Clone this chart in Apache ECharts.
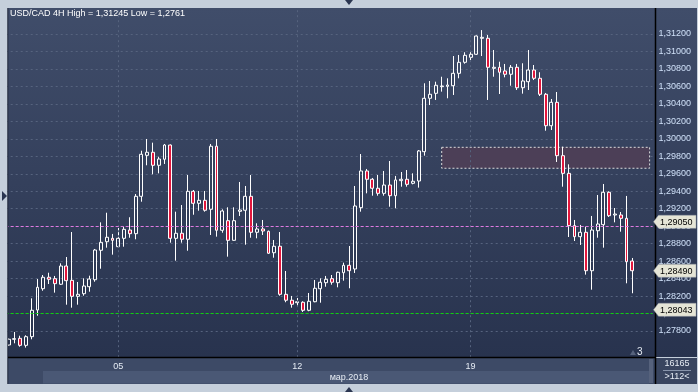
<!DOCTYPE html>
<html><head><meta charset="utf-8">
<script src="https://cdn.jsdelivr.net/npm/echarts@6/dist/echarts.min.js"></script>
<style>html,body{margin:0;padding:0;background:#c5cfdb;}#c{width:698px;height:392px;}</style>
</head><body><div id="c"></div>
<script>
const titleText = 'USD/CAD 4H High = 1,31245 Low = 1,2761';
const opens = [
1.27640, 1.27705, 1.27716, 1.27636, 1.27735, 1.28040, 1.28284, 1.28415, 1.28399, 1.28335,
1.28544, 1.28380, 1.28197, 1.28227, 1.28307, 1.28387, 1.28724, 1.28822, 1.28861, 1.28765,
1.28861, 1.28956, 1.28914, 1.29342, 1.29811, 1.29846, 1.29697, 1.29766, 1.29929, 1.28861,
1.28919, 1.28850, 1.29399, 1.29262, 1.29296, 1.29193, 1.29915, 1.28953, 1.29063, 1.28838,
1.29170, 1.29182, 1.29342, 1.28930, 1.28968, 1.28941, 1.28696, 1.28770, 1.28220, 1.28152,
1.28124, 1.28129, 1.28037, 1.28135, 1.28284, 1.28353, 1.28399, 1.28353, 1.28467, 1.28552,
1.28510, 1.29212, 1.29632, 1.29537, 1.29434, 1.29376, 1.29471, 1.29349, 1.29521, 1.29537,
1.29491, 1.29517, 1.29853, 1.30464, 1.30521, 1.30597, 1.30601, 1.30608, 1.30750, 1.30876,
1.30933, 1.30968, 1.31151, 1.31151, 1.30807, 1.30819, 1.30777, 1.30739, 1.30819, 1.30585,
1.30654, 1.30788, 1.30693, 1.30510, 1.30150, 1.30418, 1.29807, 1.29605, 1.29006, 1.28880,
1.28930, 1.28490, 1.28948, 1.29017, 1.29388, 1.29128, 1.29128, 1.29090, 1.28601
];
const closes = [
1.27705, 1.27712, 1.27636, 1.27735, 1.28037, 1.28300, 1.28415, 1.28392, 1.28342, 1.28544,
1.28376, 1.28197, 1.28220, 1.28315, 1.28395, 1.28727, 1.28815, 1.28873, 1.28838, 1.28861,
1.28964, 1.28914, 1.29342, 1.29823, 1.29846, 1.29697, 1.29769, 1.29929, 1.28861, 1.28919,
1.28850, 1.29399, 1.29262, 1.29296, 1.29182, 1.29915, 1.28953, 1.29174, 1.28838, 1.29063,
1.29185, 1.29342, 1.28930, 1.28968, 1.28945, 1.28690, 1.28770, 1.28220, 1.28152, 1.28106,
1.28135, 1.28037, 1.28140, 1.28289, 1.28358, 1.28392, 1.28358, 1.28472, 1.28552, 1.28490,
1.29231, 1.29632, 1.29537, 1.29434, 1.29376, 1.29471, 1.29349, 1.29529, 1.29537, 1.29479,
1.29514, 1.29861, 1.30464, 1.30510, 1.30613, 1.30605, 1.30616, 1.30750, 1.30876, 1.30956,
1.30968, 1.31177, 1.31162, 1.30819, 1.30819, 1.30762, 1.30739, 1.30819, 1.30585, 1.30662,
1.30788, 1.30693, 1.30510, 1.30150, 1.30418, 1.29807, 1.29605, 1.29006, 1.28880, 1.28930,
1.28490, 1.28956, 1.29025, 1.29388, 1.29120, 1.29139, 1.29090, 1.28593, 1.28490
];
const lows = [
1.27628, 1.27659, 1.27620, 1.27610, 1.27705, 1.27975, 1.28261, 1.28338, 1.28239, 1.28327,
1.28101, 1.28067, 1.28101, 1.28204, 1.28250, 1.28364, 1.28513, 1.28754, 1.28674, 1.28760,
1.28765, 1.28868, 1.28850, 1.29280, 1.29697, 1.29594, 1.29605, 1.29712, 1.28811, 1.28605,
1.28811, 1.28719, 1.29131, 1.29177, 1.29166, 1.28899, 1.28880, 1.28925, 1.28651, 1.28834,
1.29117, 1.28788, 1.28868, 1.28861, 1.28899, 1.28682, 1.28639, 1.28204, 1.28129, 1.28067,
1.28078, 1.28018, 1.28026, 1.28129, 1.28124, 1.28307, 1.28330, 1.28300, 1.28376, 1.28289,
1.28464, 1.29166, 1.29376, 1.29349, 1.29349, 1.29349, 1.29223, 1.29205, 1.29452, 1.29452,
1.29479, 1.29441, 1.29807, 1.30387, 1.30445, 1.30540, 1.30464, 1.30502, 1.30693, 1.30860,
1.30902, 1.30960, 1.30948, 1.30445, 1.30711, 1.30513, 1.30704, 1.30608, 1.30559, 1.30517,
1.30559, 1.30673, 1.30490, 1.30093, 1.30101, 1.29735, 1.29452, 1.28876, 1.28830, 1.28785,
1.28445, 1.28273, 1.28868, 1.28754, 1.29105, 1.29044, 1.28937, 1.28346, 1.28232
];
const highs = [
1.27716, 1.27789, 1.27746, 1.27751, 1.28174, 1.28395, 1.28441, 1.28467, 1.28430, 1.28575,
1.28647, 1.28933, 1.28361, 1.28403, 1.28433, 1.28739, 1.29044, 1.29154, 1.28911, 1.28979,
1.28994, 1.29102, 1.29368, 1.29864, 1.29998, 1.29956, 1.29795, 1.29941, 1.29935, 1.29166,
1.29242, 1.29586, 1.29414, 1.29403, 1.29403, 1.29941, 1.29998, 1.29193, 1.29216, 1.29216,
1.29506, 1.29460, 1.29586, 1.29033, 1.29071, 1.28950, 1.28842, 1.28933, 1.28487, 1.28201,
1.28178, 1.28140, 1.28235, 1.28384, 1.28403, 1.28430, 1.28441, 1.28479, 1.28582, 1.28773,
1.29460, 1.29826, 1.29655, 1.29552, 1.29586, 1.29632, 1.29746, 1.29575, 1.29620, 1.29643,
1.29605, 1.29872, 1.30636, 1.30662, 1.30654, 1.30711, 1.30693, 1.30948, 1.30960, 1.30991,
1.30997, 1.31183, 1.31245, 1.31189, 1.31017, 1.30883, 1.30857, 1.30845, 1.30857, 1.30865,
1.31017, 1.30845, 1.30762, 1.30525, 1.30456, 1.30536, 1.29910, 1.29708, 1.29071, 1.29014,
1.28994, 1.29117, 1.29357, 1.29483, 1.29399, 1.29208, 1.29162, 1.29346, 1.28636
];
const barSlots = 112;
const categories = Array.from({length: barSlots}, (_, i) => 'b' + i);
const xTickIndex = [19, 50, 80];
const xTickLabels = ['05', '12', '19'];
const monthLabel = 'мар.2018';
const yTicks = [1.278, 1.280, 1.282, 1.284, 1.286, 1.288, 1.290, 1.292, 1.294, 1.296, 1.298, 1.300, 1.302, 1.304, 1.306, 1.308, 1.310, 1.312];
const pinkLevel = 1.29050;
const greenLevel = 1.28043;
const lastPrice = 1.28490;
const zoneTop = 1.29903, zoneBottom = 1.29663, zoneStart = 75, zoneEnd = 111;
const barsTotalText = '16165', visibleText = '>112<', markerText = '3';

const fmt = v => v.toFixed(5).replace('.', ',');
const FONT = 'Liberation Sans, Arial, sans-serif';
const candleData = opens.map((o, i) => [o, closes[i], lows[i], highs[i]]);
const tickLabelMap = {};
xTickIndex.forEach((idx, k) => { tickLabelMap[idx] = xTickLabels[k]; });

const gridColor = '#56637e';
const bgGrad = new echarts.graphic.LinearGradient(0, 0, 0, 1, [
  {offset: 0, color: '#404d6a'}, {offset: 1, color: '#28334e'}]);
const bgGrad2 = new echarts.graphic.LinearGradient(0, 0, 0, 1, [
  {offset: 0, color: '#404d6a'}, {offset: 1, color: '#28334e'}]);

const chart = echarts.init(document.getElementById('c'), null, {renderer: 'canvas'});
const baseGraphic = [
    {type: 'rect', z: -10, silent: true, shape: {x: 8, y: 8, width: 648, height: 349}, style: {fill: bgGrad}},
    {type: 'rect', z: -10, silent: true, shape: {x: 656, y: 8, width: 41, height: 349}, style: {fill: bgGrad2}},
    {type: 'rect', z: -10, silent: true, shape: {x: 8, y: 358, width: 648, height: 26}, style: {fill: '#3d4a66'}},
    {type: 'rect', z: -9, silent: true, shape: {x: 43, y: 371, width: 606, height: 12.5}, style: {fill: '#4a5875'}},
    {type: 'rect', z: -9, silent: true, shape: {x: 649, y: 359, width: 4, height: 24}, style: {fill: '#56627c'}},
    {type: 'rect', z: -10, silent: true, shape: {x: 656, y: 358, width: 41, height: 26}, style: {fill: '#39455f'}},
    {type: 'rect', z: 100, silent: true, shape: {x: 0, y: 0, width: 7.5, height: 392}, style: {fill: '#c5cfdb'}},
    {type: 'line', z: 101, silent: true, shape: {x1: 7.8, y1: 8, x2: 7.8, y2: 384}, style: {stroke: '#1b2236', lineWidth: 1}},
    {type: 'line', z: 101, silent: true, shape: {x1: 8, y1: 357.5, x2: 656, y2: 357.5}, style: {stroke: '#000', lineWidth: 1.5}},
    {type: 'line', z: 101, silent: true, shape: {x1: 655.5, y1: 8, x2: 655.5, y2: 384}, style: {stroke: '#000', lineWidth: 1.5}},
    {type: 'line', z: 101, silent: true, shape: {x1: 663, y1: 370.5, x2: 691, y2: 370.5}, style: {stroke: '#8894aa', lineWidth: 1}},
    {type: 'polygon', z: 101, silent: true, shape: {points: [[345, 0], [353, 0], [349, 5]]}, style: {fill: '#2a3550'}},
    {type: 'polygon', z: 101, silent: true, shape: {points: [[345, 392], [353, 392], [349, 387]]}, style: {fill: '#2a3550'}},
    {type: 'polygon', z: 101, silent: true, shape: {points: [[2, 191], [2, 201], [7, 196]]}, style: {fill: '#2a3550'}},
    {type: 'polygon', z: 101, silent: true, shape: {points: [[630, 355], [636, 355], [633, 350]]}, style: {fill: '#56627c'}},
    {type: 'text', z: 101, silent: true, style: {x: 10, y: 14, text: titleText, fill: '#ffffff', font: '9px ' + FONT, verticalAlign: 'middle'}},
    {type: 'text', z: 101, silent: true, style: {x: 637, y: 352.5, text: markerText, fill: '#e6ecf4', font: '10px ' + FONT, verticalAlign: 'middle'}},
    {type: 'text', z: 101, silent: true, style: {x: 349, y: 377.5, text: monthLabel, fill: '#e6ecf4', font: '9px ' + FONT, align: 'center', verticalAlign: 'middle'}},
    {type: 'text', z: 101, silent: true, style: {x: 677, y: 364, text: barsTotalText, fill: '#e6ecf4', font: '9px ' + FONT, align: 'center', verticalAlign: 'middle'}},
    {type: 'text', z: 101, silent: true, style: {x: 677, y: 377, text: visibleText, fill: '#e6ecf4', font: '9px ' + FONT, align: 'center', verticalAlign: 'middle'}}
];
chart.setOption({
  backgroundColor: '#c5cfdb',
  animation: false,
  grid: {left: 5.7, top: 7.8, width: 646.8, height: 349.4},
  xAxis: {
    type: 'category', data: categories, boundaryGap: true,
    axisLine: {show: false}, axisTick: {show: false}, splitLine: {show: false},
    axisLabel: {
      interval: (i) => tickLabelMap[i] !== undefined,
      formatter: (v, i) => tickLabelMap[i] || '',
      color: '#e6ecf4', fontSize: 9, fontFamily: FONT, margin: 5
    }
  },
  yAxis: {
    type: 'value', position: 'right', min: 1.275, max: 1.315, scale: true,
    axisLine: {show: false},
    axisTick: {show: false, customValues: yTicks},
    axisLabel: {customValues: yTicks, formatter: fmt, color: '#cfe0f8', fontSize: 9, fontFamily: FONT, margin: 6},
    splitLine: {show: true, lineStyle: {color: gridColor, type: [2, 3], width: 1}}
  },
  graphic: baseGraphic,
  series: [{
    type: 'candlestick',
    data: candleData,
    barWidth: 3.4,
    itemStyle: {
      color: 'transparent', color0: '#e2173d',
      borderColor: '#ffffff', borderColor0: '#ffffff', borderWidth: 1
    },
    markArea: {
      silent: true,
      itemStyle: {color: '#4c3f57', borderColor: '#dcdcdc', borderType: [2, 2], borderWidth: 1},
      data: [[{xAxis: categories[zoneStart], yAxis: zoneTop}, {xAxis: categories[zoneEnd], yAxis: zoneBottom}]]
    },
    markLine: {
      silent: true, symbol: 'none', animation: false, label: {show: false},
      data: [
        ...xTickIndex.map(i => ({xAxis: categories[i], lineStyle: {color: gridColor, type: [2, 3], width: 1}})),
        {yAxis: pinkLevel, lineStyle: {color: '#e07ae0', type: [3, 2], width: 1}},
        {yAxis: greenLevel, lineStyle: {color: '#10d010', type: [3, 2], width: 1}}
      ]
    }
  }]
});
// price boxes on the right axis, placed through the axis scale
const boxes = [];
[pinkLevel, lastPrice, greenLevel].forEach(v => {
  const y = chart.convertToPixel({yAxisIndex: 0}, v);
  boxes.push({type: 'polygon', z: 102, silent: true,
    shape: {points: [[653.5, y], [658.5, y - 6.5], [696, y - 6.5], [696, y + 6.5], [658.5, y + 6.5]]},
    style: {fill: '#e5e5d6', stroke: '#9aa0a8', lineWidth: 0.5}});
  boxes.push({type: 'text', z: 103, silent: true,
    style: {x: 660, y: y + 0.5, text: fmt(v), fill: '#000', font: '9px ' + FONT, verticalAlign: 'middle'}});
});
chart.setOption({graphic: baseGraphic.concat(boxes)});
</script>
</body></html>
